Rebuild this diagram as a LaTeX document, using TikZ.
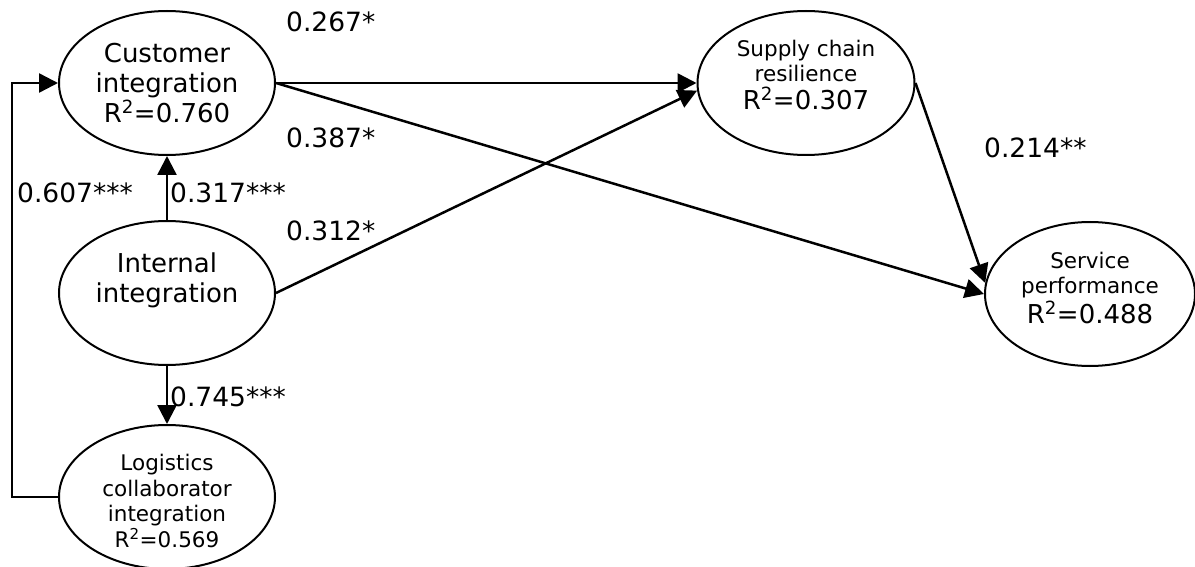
\documentclass[tikz,border=0pt]{standalone}
\usepackage{fontspec}
\setmainfont{DejaVu Sans}
\usetikzlibrary{arrows.meta,shapes.geometric}
\newcommand{\sqr}{\textsuperscript{2}}
\tikzset{
 latent/.style={draw, line width=2pt, ellipse, inner sep=0pt, minimum width=216pt, minimum height=144pt},
 pathline/.style={line width=2.5pt, -{Triangle[length=19pt,width=19pt]}},
 coef/.style={anchor=west, inner sep=0pt, font=\fontsize{26.5}{30}\selectfont},
 bigtxt/.style={align=center, inner sep=0pt, font=\fontsize{26}{30}\selectfont},
 smalltxt/.style={align=center, inner sep=0pt, font=\fontsize{21.5}{25.5}\selectfont},
}
\begin{document}
\begin{tikzpicture}[x=1pt,y=-1pt]
\useasboundingbox (0,0) rectangle (1195,567);
% constructs
\node[latent] (ci) at (167,83) {};
\node[latent] (ii) at (167,293) {};
\node[latent] (lci) at (167,497) {};
\node[latent, minimum width=217pt] (scr) at (806,83) {};
\node[latent, minimum width=210pt] (sp) at (1090,294) {};
% texts
\node[bigtxt] (cit) at (167,83) {Customer\\integration\\R\sqr=0.760};
\node[bigtxt] (iit) at (167,280) {Internal\\integration};
\begin{scope}
\clip (0,0) rectangle (1195,548);
\node[smalltxt] (lcit) at (167,501) {Logistics\\collaborator\\integration\\R\sqr=0.569};
\end{scope}
\node[smalltxt] (scrt) at (806,75) {Supply chain\\resilience\\[2pt]{\fontsize{26}{30}\selectfont R\sqr=0.307}};
\node[smalltxt] (spt) at (1090,288) {Service\\performance\\[2pt]{\fontsize{26}{30}\selectfont R\sqr=0.488}};
% connectors
\coordinate (loop) at (12,497);
\draw[pathline] (ii) -- (ci);
\draw[pathline] (ii) -- (lci);
\draw[pathline] (lci.west) -- (loop) |- (ci.west);
\draw[pathline] (ci.east) -- (scr.west);
\draw[pathline] (ci.east) -- (sp.west);
\draw[pathline] (ii.east) -- (scr.184);
\draw[pathline] (scr.east) -- (sp.174);
% coefficients
\node[coef] (c1) at (286,22) {0.267*};
\node[coef] (c2) at (286,138) {0.387*};
\node[coef] (c3) at (286,231) {0.312*};
\node[coef] (c4) at (984,148) {0.214**};
\node[coef] (c5) at (17,193) {0.607***};
\node[coef] (c6) at (170,193) {0.317***};
\node[coef] (c7) at (170,397) {0.745***};
\end{tikzpicture}
\end{document}
